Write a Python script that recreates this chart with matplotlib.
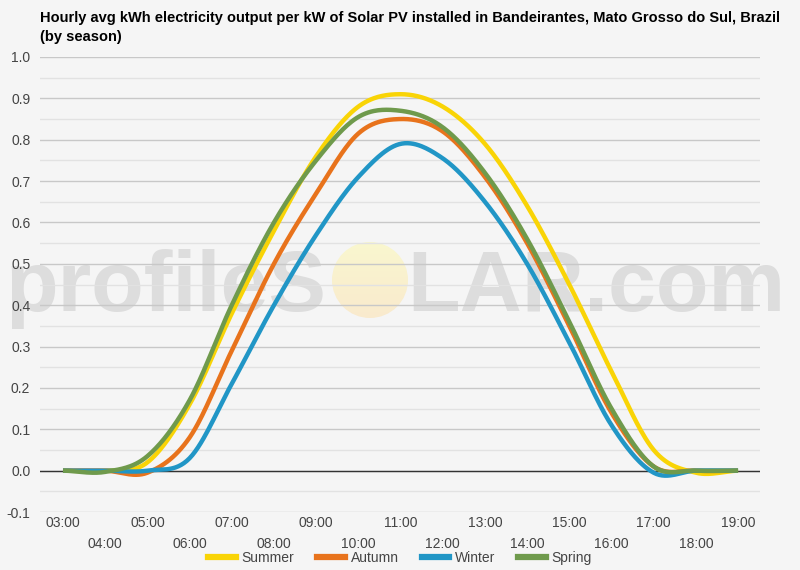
import numpy as np
import matplotlib.pyplot as plt
from matplotlib.patches import Circle
from matplotlib.lines import Line2D

# ---- data ----
horas = list(range(3, 20))
etiquetas = [f"{h:02d}:00" for h in horas]
series = ["Summer", "Autumn", "Winter", "Spring"]
summer = [0, 0, 0.02, 0.16, 0.38, 0.58, 0.76, 0.88, 0.91, 0.88, 0.79, 0.64, 0.45, 0.24, 0.05, -0.005, 0]
autumn = [0, 0, -0.005, 0.08, 0.29, 0.50, 0.67, 0.815, 0.85, 0.82, 0.71, 0.55, 0.35, 0.14, 0.01, 0, 0]
winter = [0, 0, 0, 0.03, 0.21, 0.40, 0.57, 0.71, 0.79, 0.755, 0.65, 0.50, 0.31, 0.11, -0.005, 0, 0]
spring = [0, -0.003, 0.035, 0.17, 0.40, 0.60, 0.75, 0.855, 0.87, 0.83, 0.72, 0.56, 0.36, 0.15, 0.01, 0, 0]
colores = ["#f9d406", "#e8731c", "#2196c6", "#6f9a4c"]

bg = "#f5f5f5"


def suavizar(x, y, n=30):
    # catmull-rom entre puntos horarios
    x = np.asarray(x, float)
    y = np.asarray(y, float)
    yp = np.concatenate([[y[0]], y, [y[-1]]])
    xs, ys = [], []
    for i in range(len(x) - 1):
        p0, p1, p2, p3 = yp[i], yp[i + 1], yp[i + 2], yp[i + 3]
        t = np.linspace(0, 1, n, endpoint=False)
        v = 0.5 * ((2 * p1) + (-p0 + p2) * t + (2 * p0 - 5 * p1 + 4 * p2 - p3) * t**2
                   + (-p0 + 3 * p1 - 3 * p2 + p3) * t**3)
        xs.append(x[i] + t * (x[i + 1] - x[i]))
        ys.append(v)
    xs.append([x[-1]])
    ys.append([y[-1]])
    return np.concatenate(xs), np.concatenate(ys)


plt.rcParams['font.family'] = ['Liberation Sans', 'DejaVu Sans']

fig = plt.figure(figsize=(8, 5.7), dpi=100, facecolor=bg)

# sol del watermark (degradado dentro de un circulo)
sol = fig.add_axes([332 / 800, 1 - 318 / 570, 76 / 800, 76 / 570], zorder=-2)
sol.set_axis_off()
grad = np.linspace(0, 1, 100)[:, None]
cmap = plt.matplotlib.colors.LinearSegmentedColormap.from_list("sol", ["#faf7cf", "#f9eacd"])
img = sol.imshow(np.repeat(grad, 2, axis=1), cmap=cmap, aspect="auto", extent=(0, 1, 1, 0))
circ = Circle((0.5, 0.5), 0.5, transform=sol.transAxes, facecolor="none", edgecolor="none")
sol.add_patch(circ)
img.set_clip_path(circ)

# texto del watermark
fig.text(5 / 800, 1 - 311 / 570, "profileS", fontsize=62, fontweight="bold",
         color="#dddddd", ha="left", va="baseline", zorder=-1)
fig.text(407 / 800, 1 - 311 / 570, "LAR.com", fontsize=62, fontweight="bold",
         color="#dddddd", ha="left", va="baseline", zorder=-1)

ax = fig.add_axes([40 / 800, 1 - 512 / 570, 720 / 800, 455 / 570])
ax.set_facecolor("none")
ax.set_xlim(2.455, 19.52)
ax.set_ylim(-0.1, 1.0)

# grid
for v in np.arange(-0.1, 1.001, 0.05):
    major = abs(round(v * 10) - v * 10) < 1e-6
    ax.axhline(v, color="#c8c8c8" if major else "#e2e2e2", lw=1, zorder=1)
ax.axhline(0, color="#333333", lw=1, zorder=2)

for nombre, vals, c in zip(series, [summer, autumn, winter, spring], colores):
    xs, ys = suavizar(horas, vals)
    ax.plot(xs, ys, color=c, lw=3.2, solid_capstyle="butt", zorder=3, label=nombre)

for s in ax.spines.values():
    s.set_visible(False)

ax.set_yticks(np.round(np.arange(-0.1, 1.01, 0.1), 1))
ax.set_yticklabels([f"{v:.1f}" for v in np.arange(-0.1, 1.01, 0.1)])
ax.set_xticks(horas)
ax.set_xticklabels([e if i % 2 == 0 else "\n" + e for i, e in enumerate(etiquetas)],
                   linespacing=1.6)
ax.tick_params(length=0, labelsize=10, colors="#444444", pad=3)
ax.tick_params(axis="y", pad=7)

fig.text(40 / 800, 1 - 11 / 570,
         "Hourly avg kWh electricity output per kW of Solar PV installed in Bandeirantes, Mato Grosso do Sul, Brazil\n(by season)",
         fontsize=10.5, fontweight="bold", ha="left", va="top", linespacing=1.5, color="#000000")

handles = [Line2D([0], [0], color=c, lw=4.5) for c in colores]
fig.legend(handles, series, loc="center", bbox_to_anchor=(0.5, 1 - 558 / 570), ncol=4,
           frameon=False, fontsize=10, handlelength=2.0, columnspacing=1.65,
           handletextpad=0.4, labelcolor="#444444")

plt.savefig("out.png", dpi=100, facecolor=bg)
